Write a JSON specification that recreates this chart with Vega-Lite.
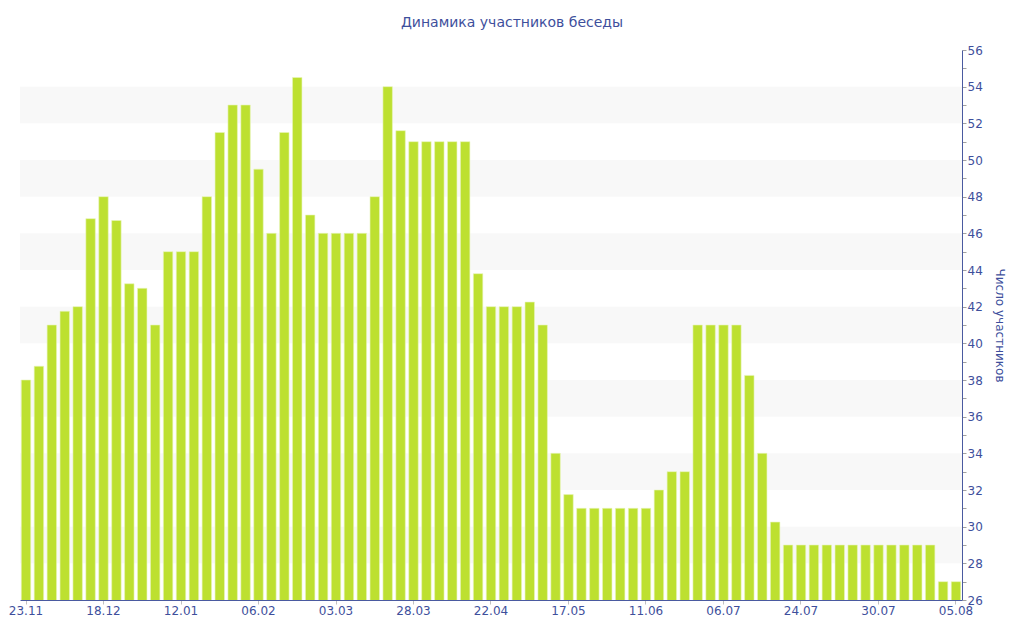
{
  "$schema": "https://vega.github.io/schema/vega-lite/v6.json",
  "autosize": "none",
  "width": 942,
  "height": 550,
  "padding": {"left": 20, "top": 50, "right": 62, "bottom": 40},
  "background": "#ffffff",
  "config": {
    "view": {"stroke": null},
    "font": "DejaVu Sans",
    "axis": {"labelOverlap": false}
  },
  "title": {
    "text": "Динамика участников беседы",
    "font": "DejaVu Sans",
    "fontSize": 14,
    "fontWeight": "normal",
    "color": "#3e4f9c",
    "anchor": "middle",
    "dx": 21,
    "offset": 14
  },
  "datasets": {
    "bands": [
      {"lo": 28, "hi": 30},
      {"lo": 32, "hi": 34},
      {"lo": 36, "hi": 38},
      {"lo": 40, "hi": 42},
      {"lo": 44, "hi": 46},
      {"lo": 48, "hi": 50},
      {"lo": 52, "hi": 54}
    ],
    "counts": [
      {"date": "23.11", "members": 38},
      {"date": "27.11", "members": 38.75},
      {"date": "01.12", "members": 41},
      {"date": "05.12", "members": 41.75},
      {"date": "10.12", "members": 42},
      {"date": "14.12", "members": 46.8},
      {"date": "18.12", "members": 48},
      {"date": "22.12", "members": 46.7},
      {"date": "26.12", "members": 43.25},
      {"date": "30.12", "members": 43},
      {"date": "04.01", "members": 41},
      {"date": "08.01", "members": 45},
      {"date": "12.01", "members": 45},
      {"date": "16.01", "members": 45},
      {"date": "20.01", "members": 48},
      {"date": "24.01", "members": 51.5},
      {"date": "29.01", "members": 53},
      {"date": "02.02", "members": 53},
      {"date": "06.02", "members": 49.5},
      {"date": "10.02", "members": 46},
      {"date": "14.02", "members": 51.5},
      {"date": "18.02", "members": 54.5},
      {"date": "23.02", "members": 47},
      {"date": "27.02", "members": 46},
      {"date": "03.03", "members": 46},
      {"date": "07.03", "members": 46},
      {"date": "11.03", "members": 46},
      {"date": "15.03", "members": 48},
      {"date": "20.03", "members": 54},
      {"date": "24.03", "members": 51.6},
      {"date": "28.03", "members": 51},
      {"date": "01.04", "members": 51},
      {"date": "05.04", "members": 51},
      {"date": "09.04", "members": 51},
      {"date": "14.04", "members": 51},
      {"date": "18.04", "members": 43.8},
      {"date": "22.04", "members": 42},
      {"date": "26.04", "members": 42},
      {"date": "30.04", "members": 42},
      {"date": "04.05", "members": 42.25},
      {"date": "09.05", "members": 41},
      {"date": "13.05", "members": 34},
      {"date": "17.05", "members": 31.75},
      {"date": "21.05", "members": 31},
      {"date": "25.05", "members": 31},
      {"date": "29.05", "members": 31},
      {"date": "03.06", "members": 31},
      {"date": "07.06", "members": 31},
      {"date": "11.06", "members": 31},
      {"date": "15.06", "members": 32},
      {"date": "19.06", "members": 33},
      {"date": "23.06", "members": 33},
      {"date": "28.06", "members": 41},
      {"date": "02.07", "members": 41},
      {"date": "06.07", "members": 41},
      {"date": "09.07", "members": 41},
      {"date": "12.07", "members": 38.25},
      {"date": "15.07", "members": 34},
      {"date": "18.07", "members": 30.25},
      {"date": "21.07", "members": 29},
      {"date": "24.07", "members": 29},
      {"date": "25.07", "members": 29},
      {"date": "26.07", "members": 29},
      {"date": "27.07", "members": 29},
      {"date": "28.07", "members": 29},
      {"date": "29.07", "members": 29},
      {"date": "30.07", "members": 29},
      {"date": "31.07", "members": 29},
      {"date": "01.08", "members": 29},
      {"date": "02.08", "members": 29},
      {"date": "03.08", "members": 29},
      {"date": "04.08", "members": 27},
      {"date": "05.08", "members": 27}
    ]
  },
  "layer": [
    {
      "data": {"name": "bands"},
      "mark": {"type": "rect", "color": "#f8f8f8"},
      "encoding": {
        "y": {
          "field": "lo",
          "type": "quantitative",
          "scale": {"domain": [26, 56], "nice": false, "zero": false},
          "axis": {
            "orient": "right",
            "title": "Число участников",
            "titleFont": "DejaVu Sans",
            "titleFontSize": 12,
            "titleFontWeight": "normal",
            "titleColor": "#3e4f9c",
            "titlePadding": 10,
            "values": [26,27,28,29,30,31,32,33,34,35,36,37,38,39,40,41,42,43,44,45,46,47,48,49,50,51,52,53,54,55,56],
            "labelExpr": "datum.value % 2 == 0 ? datum.label : ''",
            "labelOverlap": false,
            "labelFont": "DejaVu Sans",
            "labelFontSize": 12,
            "labelColor": "#3e4f9c",
            "labelPadding": 1,
            "labelBaseline": "middle",
            "labelFlush": false,
            "domainColor": "#4a5aa0",
            "tickColor": "#a0a0a0",
            "tickSize": 4,
            "grid": false
          }
        },
        "y2": {"field": "hi"}
      }
    },
    {
      "data": {"name": "counts"},
      "mark": {"type": "bar", "color": "#bde030", "stroke": "#e8f5b8", "strokeWidth": 0.6, "clip": true},
      "encoding": {
        "x": {
          "field": "date",
          "type": "ordinal",
          "sort": null,
          "scale": {"paddingInner": 0.27, "paddingOuter": 0.1},
          "axis": {
            "title": null,
            "values": ["23.11", "18.12", "12.01", "06.02", "03.03", "28.03", "22.04", "17.05", "11.06", "06.07", "24.07", "30.07", "05.08"],
            "labelAngle": 0,
            "labelFont": "DejaVu Sans",
            "labelFontSize": 12,
            "labelColor": "#3e4f9c",
            "labelPadding": 1,
            "domainColor": "#4a5aa0",
            "domainWidth": 1,
            "tickColor": "#c0c0c0",
            "tickSize": 4,
            "grid": false
          }
        },
        "y": {
          "field": "members",
          "type": "quantitative",
          "scale": {"domain": [26, 56], "nice": false, "zero": false},
          "axis": {
            "orient": "right",
            "title": "Число участников",
            "titleFont": "DejaVu Sans",
            "titleFontSize": 12,
            "titleFontWeight": "normal",
            "titleColor": "#3e4f9c",
            "titlePadding": 10,
            "values": [26,27,28,29,30,31,32,33,34,35,36,37,38,39,40,41,42,43,44,45,46,47,48,49,50,51,52,53,54,55,56],
            "labelExpr": "datum.value % 2 == 0 ? datum.label : ''",
            "labelOverlap": false,
            "labelFont": "DejaVu Sans",
            "labelFontSize": 12,
            "labelColor": "#3e4f9c",
            "labelPadding": 1,
            "labelBaseline": "middle",
            "labelFlush": false,
            "domainColor": "#4a5aa0",
            "tickColor": "#a0a0a0",
            "tickSize": 4,
            "grid": false
          }
        }
      }
    }
  ]
}
